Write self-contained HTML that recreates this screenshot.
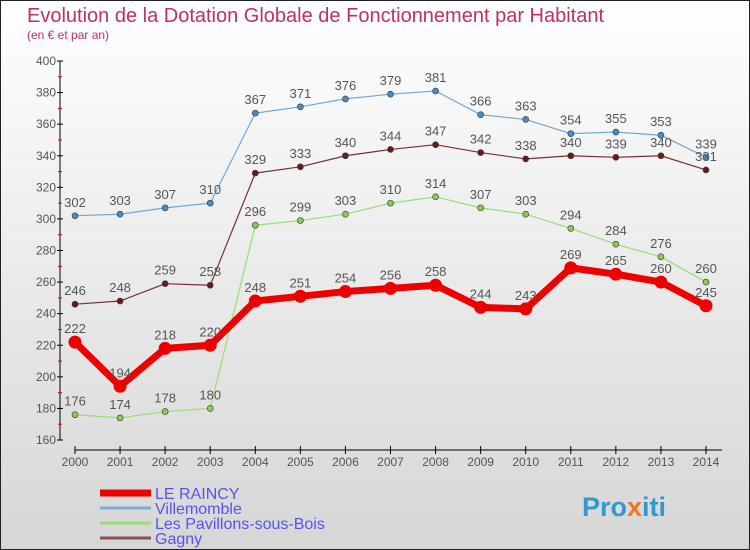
<!DOCTYPE html>
<html><head><meta charset="utf-8"><style>
body{margin:0;}
#c{width:750px;height:550px;position:relative;overflow:hidden;font-family:"Liberation Sans",sans-serif;}
</style></head><body>
<div id="c">
<svg id="s" width="750" height="550" xmlns="http://www.w3.org/2000/svg" font-family="Liberation Sans, sans-serif">
<defs><linearGradient id="bg" x1="0" y1="0" x2="0" y2="1"><stop offset="0" stop-color="#ffffff"/><stop offset="1" stop-color="#d6d6d6"/></linearGradient></defs>
<rect x="0.5" y="0.5" width="749" height="549" fill="url(#bg)" stroke="#222"/>
<text x="27" y="22" font-size="20" fill="#c03060">Evolution de la Dotation Globale de Fonctionnement par Habitant</text>
<text x="27" y="39" font-size="12" fill="#c03060">(en € et par an)</text>
<g id="axes"></g><g id="series"></g><g id="legend"></g>
<text x="582" y="516" font-size="27" font-weight="bold" fill="#3399cc">Pro<tspan fill="#ee7722">x</tspan>iti</text>
</svg></div>
<script>
const years=[2000,2001,2002,2003,2004,2005,2006,2007,2008,2009,2010,2011,2012,2013,2014];
const yTicks=[160,180,200,220,240,260,280,300,320,340,360,380,400];
const raincy=[222,194,218,220,248,251,254,256,258,244,243,269,265,260,245];
const villemomble=[302,303,307,310,367,371,376,379,381,366,363,354,355,353,339];
const pavillons=[176,174,178,180,296,299,303,310,314,307,303,294,284,276,260];
const gagny=[246,248,259,258,329,333,340,344,347,342,338,340,339,340,331];
const NS="http://www.w3.org/2000/svg";
const X=i=>75+i*(706-75)/(years.length-1);
const Y=v=>440-(v-160)*(440-61)/(400-160);
function mk(t,a,p){const e=document.createElementNS(NS,t);for(const k in a)e.setAttribute(k,a[k]);p.appendChild(e);return e;}
const ax=document.getElementById('axes');
let yl=mk('line',{x1:60,y1:61,x2:60,y2:440,stroke:'#000'},ax);


yTicks.forEach((v,i)=>{
 mk('line',{x1:57,y1:Y(v),x2:63,y2:Y(v),stroke:'#000'},ax);
 if(i<yTicks.length-1) mk('line',{x1:58,y1:Y(v+10),x2:62,y2:Y(v+10),stroke:'#e00'},ax);
 const t=mk('text',{x:56,y:Y(v)+4,'font-size':12,'text-anchor':'end',fill:'#555'},ax);
 
 
 t.textContent=v;
});
let xl=mk('line',{x1:75,y1:450,x2:722,y2:450,stroke:'#000'},ax);


years.forEach((y,i)=>{
 mk('line',{x1:X(i),y1:446,x2:X(i),y2:454,stroke:'#000'},ax);
 const t=mk('text',{x:X(i),y:466,'font-size':12,'text-anchor':'middle',fill:'#555'},ax);
 
 
 t.textContent=y;
});
const sg=document.getElementById('series');
function series(vals,color,dot,w,r,name){
 const g=mk('g',{},sg);
 
 
 mk('polyline',{points:vals.map((v,i)=>X(i)+','+Y(v)).join(' '),fill:'none',stroke:color,'stroke-width':w,'stroke-linejoin':'round'},g);
 vals.forEach((v,i)=>{
  const c=mk('circle',{cx:X(i),cy:Y(v),r:r,fill:dot,stroke:'#333','stroke-width':r>4?0:0.6},g);
  
  
  const t=mk('text',{x:X(i),y:Y(v)-9,'font-size':13,'text-anchor':'middle',fill:'#555'},g);
  
  
  t.textContent=v;
 });
}
series(villemomble,'#6fa8d6','#4a8cc8',1.2,3,'villemomble-series');
series(gagny,'#7a3030','#6a1a1a',1.2,3,'gagny-series');
series(pavillons,'#99dd77','#88cc55',1.2,3,'pavillons-series');
series(raincy,'#ee0000','#ee0000',7,6.5,'le-raincy-series');
const lg=document.getElementById('legend');
const leg=[['LE RAINCY','#ee0000',7],['Villemomble','#7aaed0',3],['Les Pavillons-sous-Bois','#99dd77',3],['Gagny','#8a5050',3]];
leg.forEach((l,i)=>{
 const y=493+i*15;
 const g=mk('g',{},lg);
 
 
 mk('line',{x1:100,y1:y,x2:151,y2:y,stroke:l[1],'stroke-width':l[2]},g);
 const t=mk('text',{x:155,y:y+6,'font-size':16,fill:'#5555ee'},g);
 t.textContent=l[0];
});
</script>
</body></html>
